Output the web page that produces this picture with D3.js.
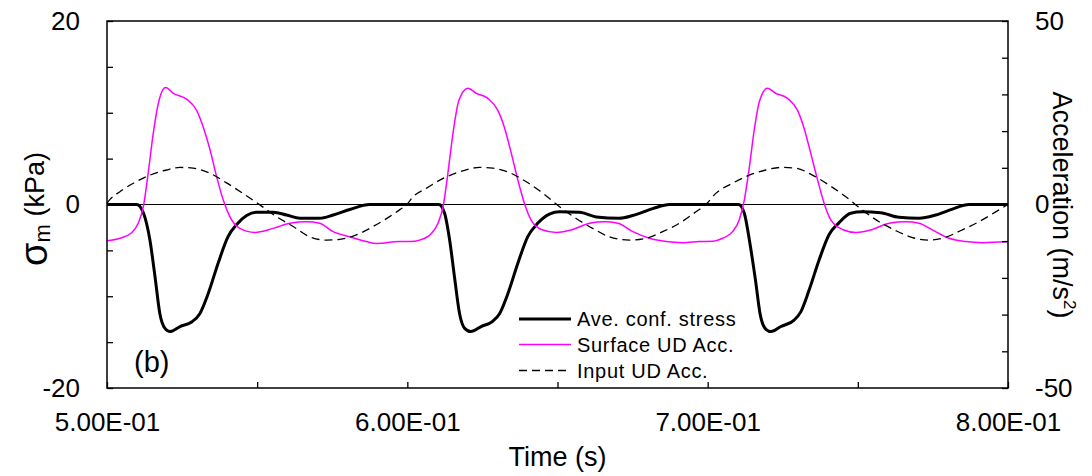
<!DOCTYPE html>
<html>
<head>
<meta charset="utf-8">
<script src="https://cdn.jsdelivr.net/npm/d3@7/dist/d3.min.js"></script>
<style>
  html, body { margin: 0; padding: 0; background: #fff; }
  svg { display: block; font-family: "Liberation Sans", Arial, sans-serif; }
</style>
</head>
<body>
<svg id="chart" width="1092" height="476"></svg>
<script>
// Average confining stress (kPa), left axis
const stressT = [
  0.500, 0.5099, 0.5121, 0.5143, 0.5160, 0.5176, 0.5193, 0.5210, 0.5243, 0.5282, 0.5309, 0.5337,
  0.5370, 0.5403, 0.5431, 0.5465, 0.5498, 0.5553, 0.5598, 0.5642, 0.5708, 0.5753, 0.5808, 0.5875,
  0.6105, 0.6124, 0.6141, 0.6157, 0.6174, 0.6191, 0.6211, 0.6246, 0.6285, 0.6307, 0.6335,
  0.6368, 0.6401, 0.6434, 0.6473, 0.6507, 0.6573, 0.6629, 0.6706, 0.6751, 0.6817, 0.6873,
  0.7103, 0.7122, 0.7139, 0.7159, 0.7175, 0.7194, 0.7211, 0.7244, 0.7288, 0.7310, 0.7338, 0.7371,
  0.7404, 0.7437, 0.7476, 0.7515, 0.7576, 0.7637, 0.7704, 0.7759, 0.7815, 0.7870, 0.800
];
const stressV = [
  0, 0, -0.9, -3.9, -7.9, -11.9, -13.5, -13.85, -13.3, -12.8, -11.9, -9.7,
  -6.4, -3.5, -2.2, -1.2, -0.85, -0.85, -1.15, -1.5, -1.5, -1.15, -0.55, 0,
  0, -0.95, -3.9, -7.9, -11.9, -13.5, -13.85, -13.3, -12.7, -11.9, -9.7,
  -6.4, -3.5, -2.05, -1.05, -0.8, -0.85, -1.35, -1.5, -1.2, -0.45, 0,
  0, -0.95, -3.9, -8.2, -12.0, -13.6, -13.85, -13.3, -12.6, -11.7, -9.3, -6.05,
  -3.3, -2.0, -0.95, -0.8, -0.9, -1.4, -1.5, -1.15, -0.5, 0, 0
];

// Surface up-down acceleration (m/s2), right axis
const surfT = [
  0.500, 0.5043, 0.5082, 0.5104, 0.5121, 0.5137, 0.5154, 0.5171, 0.5195, 0.5221, 0.5265, 0.5298, 0.5320, 0.5343,
  0.5365, 0.5387, 0.5409, 0.5442, 0.5492, 0.5553, 0.5609, 0.5664, 0.5708, 0.5753, 0.5808, 0.5864, 0.5897, 0.5975,
  0.6008, 0.6041, 0.6080, 0.6102, 0.6119, 0.6135, 0.6152, 0.6172, 0.6202, 0.6230, 0.6268, 0.6301, 0.6324, 0.6346,
  0.6368, 0.6390, 0.6412, 0.6446, 0.6496, 0.6551, 0.6607, 0.6656, 0.6701, 0.6751, 0.6806, 0.6862, 0.6917,
  0.6972, 0.7017, 0.7050, 0.7083, 0.7105, 0.7122, 0.7139, 0.7155, 0.7172, 0.7199, 0.7227, 0.7266, 0.7299, 0.7321,
  0.7343, 0.7366, 0.7388, 0.7410, 0.7449, 0.7493, 0.7549, 0.7604, 0.7660, 0.7704, 0.7748, 0.7804, 0.7859, 0.7915, 0.800
];
const surfV = [
  -9.9, -9.2, -7.7, -5.1, -0.6, 8.5, 19.4, 27.6, 31.9, 30.3, 28.7, 25.7, 21.2, 14.9,
  7.6, 1.2, -3.3, -6.5, -7.6, -6.5, -5.1, -4.7, -5.1, -7.4, -8.8, -10.1, -10.6, -10.1,
  -10.1, -9.7, -7.9, -5.1, -0.6, 8.5, 19.4, 28.5, 31.7, 30.3, 28.9, 25.7, 20.8, 14.0,
  6.7, 0.3, -4.2, -6.8, -7.6, -6.8, -5.1, -4.7, -5.1, -7.4, -9.2, -10.1, -10.4,
  -10.1, -10.0, -9.2, -7.4, -4.2, 1.2, 10.3, 20.3, 28.0, 31.7, 30.3, 28.9, 25.7, 20.8,
  14.0, 6.7, 0.3, -4.2, -6.8, -7.6, -6.8, -5.1, -4.7, -5.1, -6.9, -9.2, -10.1, -10.4, -10.1
];

// Input up-down acceleration (m/s2), right axis
const inputT = [
  0.500, 0.5010, 0.5043, 0.5088, 0.5143, 0.5198, 0.5243, 0.5287, 0.5343, 0.5398, 0.5453,
  0.5509, 0.5564, 0.5620, 0.5675, 0.5731, 0.5775, 0.5830, 0.5886, 0.5941, 0.5975,
  0.5998, 0.6019, 0.6063, 0.6119, 0.6174, 0.6241, 0.6285, 0.6340, 0.6396, 0.6451,
  0.6507, 0.6562, 0.6617, 0.6673, 0.6740, 0.6795, 0.6850, 0.6906, 0.6961,
  0.6994, 0.7028, 0.7083, 0.7139, 0.7194, 0.7244, 0.7294, 0.7349, 0.7404, 0.7460,
  0.7515, 0.7571, 0.7626, 0.7682, 0.7737, 0.7793, 0.7848, 0.7903, 0.7959, 0.800
];
const inputV = [
  0.4, 1.4, 3.5, 5.8, 8.0, 9.4, 10.1, 9.9, 8.5, 5.9, 3.0,
  -0.1, -3.3, -6.0, -8.8, -9.7, -9.5, -8.3, -6.0, -3.3, -1.4,
  0, 2.1, 4.4, 7.1, 8.9, 10.1, 9.9, 8.7, 6.2, 3.1,
  -0.6, -3.8, -6.5, -8.8, -9.7, -9.2, -7.4, -5.1, -2.0,
  0, 3.1, 5.8, 8.0, 9.4, 10.1, 9.9, 8.0, 5.3, 2.1,
  -1.5, -4.7, -7.1, -9.0, -9.7, -8.9, -6.9, -4.7, -2.0, 0
];

// Axis ticks and labels
const xTicks = [0.50, 0.55, 0.60, 0.65, 0.70, 0.75, 0.80];
const xTickLabels = ["5.00E-01", "", "6.00E-01", "", "7.00E-01", "", "8.00E-01"];
const yLeftTicks = [-20, -15, -10, -5, 0, 5, 10, 15, 20];
const yLeftLabels = ["-20", "", "", "", "0", "", "", "", "20"];
const yRightTicks = [-50, -40, -30, -20, -10, 0, 10, 20, 30, 40, 50];
const yRightLabels = ["-50", "", "", "", "", "0", "", "", "", "", "50"];

const legendNames = ["Ave. conf. stress", "Surface UD Acc.", "Input UD Acc."];

const svg = d3.select("#chart");
const L = 107, R = 1008, T = 21, B = 388;

const x = d3.scaleLinear().domain([0.5, 0.8]).range([L, R]);
const yL = d3.scaleLinear().domain([-20, 20]).range([B, T]);
const yR = d3.scaleLinear().domain([-50, 50]).range([B, T]);

const tickFont = 26;

// Zero line
svg.append("line")
  .attr("x1", L).attr("x2", R)
  .attr("y1", yL(0)).attr("y2", yL(0))
  .attr("stroke", "#000").attr("stroke-width", 1.2);

const zip = (ts, vs) => ts.map((t, i) => [t, vs[i]]);

const lineL = d3.line().x(d => x(d[0])).y(d => yL(d[1])).curve(d3.curveMonotoneX);
const lineR = d3.line().x(d => x(d[0])).y(d => yR(d[1])).curve(d3.curveMonotoneX);

svg.append("path")
  .attr("d", lineL(zip(stressT, stressV)))
  .attr("fill", "none").attr("stroke", "#000").attr("stroke-width", 3)
  .attr("stroke-linejoin", "round");

svg.append("path")
  .attr("d", lineR(zip(surfT, surfV)))
  .attr("fill", "none").attr("stroke", "#ff00ff").attr("stroke-width", 1.5);

svg.append("path")
  .attr("d", lineR(zip(inputT, inputV)))
  .attr("fill", "none").attr("stroke", "#000").attr("stroke-width", 1.3)
  .attr("stroke-dasharray", "8,5");

// Axes
function styleAxis(g) {
  g.select(".domain").remove();
  g.selectAll(".tick line").attr("stroke", "#000").attr("stroke-width", 1.3);
  g.selectAll(".tick text").attr("fill", "#000").style("font-size", tickFont + "px")
    .style("font-family", "'Liberation Sans', Arial, sans-serif");
}

svg.append("g")
  .attr("transform", `translate(0,${B})`)
  .call(d3.axisBottom(x).tickValues(xTicks)
    .tickFormat((d, i) => xTickLabels[i]).tickSize(-6).tickPadding(25))
  .call(styleAxis);

svg.append("g")
  .attr("transform", `translate(${L},0)`)
  .call(d3.axisLeft(yL).tickValues(yLeftTicks)
    .tickFormat((d, i) => yLeftLabels[i]).tickSize(-6).tickPadding(27))
  .call(styleAxis);

svg.append("g")
  .attr("transform", `translate(${R},0)`)
  .call(d3.axisRight(yR).tickValues(yRightTicks)
    .tickFormat((d, i) => yRightLabels[i]).tickSize(-6).tickPadding(27))
  .call(styleAxis);

// Plot frame
svg.append("rect")
  .attr("x", L).attr("y", T).attr("width", R - L).attr("height", B - T)
  .attr("fill", "none").attr("stroke", "#000").attr("stroke-width", 1.5);

// Axis titles
svg.append("text")
  .attr("x", (L + R) / 2).attr("y", 466)
  .attr("text-anchor", "middle").style("font-size", "27px")
  .text("Time (s)");

const leftTitle = svg.append("text")
  .attr("transform", "translate(44,209) rotate(-90)")
  .attr("text-anchor", "middle").style("font-size", "27px");
leftTitle.append("tspan").style("font-size", "38px").attr("dy", 3).text("σ");
leftTitle.append("tspan").style("font-size", "22px").attr("dy", 3).text("m");
leftTitle.append("tspan").attr("dy", -6).text(" (kPa)");

const rightTitle = svg.append("text")
  .attr("transform", "translate(1053,205) rotate(90)")
  .attr("text-anchor", "middle").style("font-size", "27px");
rightTitle.append("tspan").text("Acceleration (m/s");
rightTitle.append("tspan").style("font-size", "17px").attr("dy", -11).text("2");
rightTitle.append("tspan").attr("dy", 11).text(")");

// Panel label
svg.append("text")
  .attr("x", 134).attr("y", 372).style("font-size", "29px")
  .text("(b)");

// Legend
const legendStyles = [
  { stroke: "#000", width: 3, dash: null },
  { stroke: "#ff00ff", width: 1.5, dash: null },
  { stroke: "#000", width: 1.3, dash: "8,5" }
];
const legendRows = [319, 344.5, 370.5];
legendNames.forEach((name, i) => {
  const s = legendStyles[i];
  svg.append("line")
    .attr("x1", 519).attr("x2", 571)
    .attr("y1", legendRows[i]).attr("y2", legendRows[i])
    .attr("stroke", s.stroke).attr("stroke-width", s.width)
    .attr("stroke-dasharray", s.dash);
  svg.append("text")
    .attr("x", 577).attr("y", legendRows[i] + 7)
    .style("font-size", "20px").style("letter-spacing", "0.7px")
    .text(name);
});
</script>
</body>
</html>
